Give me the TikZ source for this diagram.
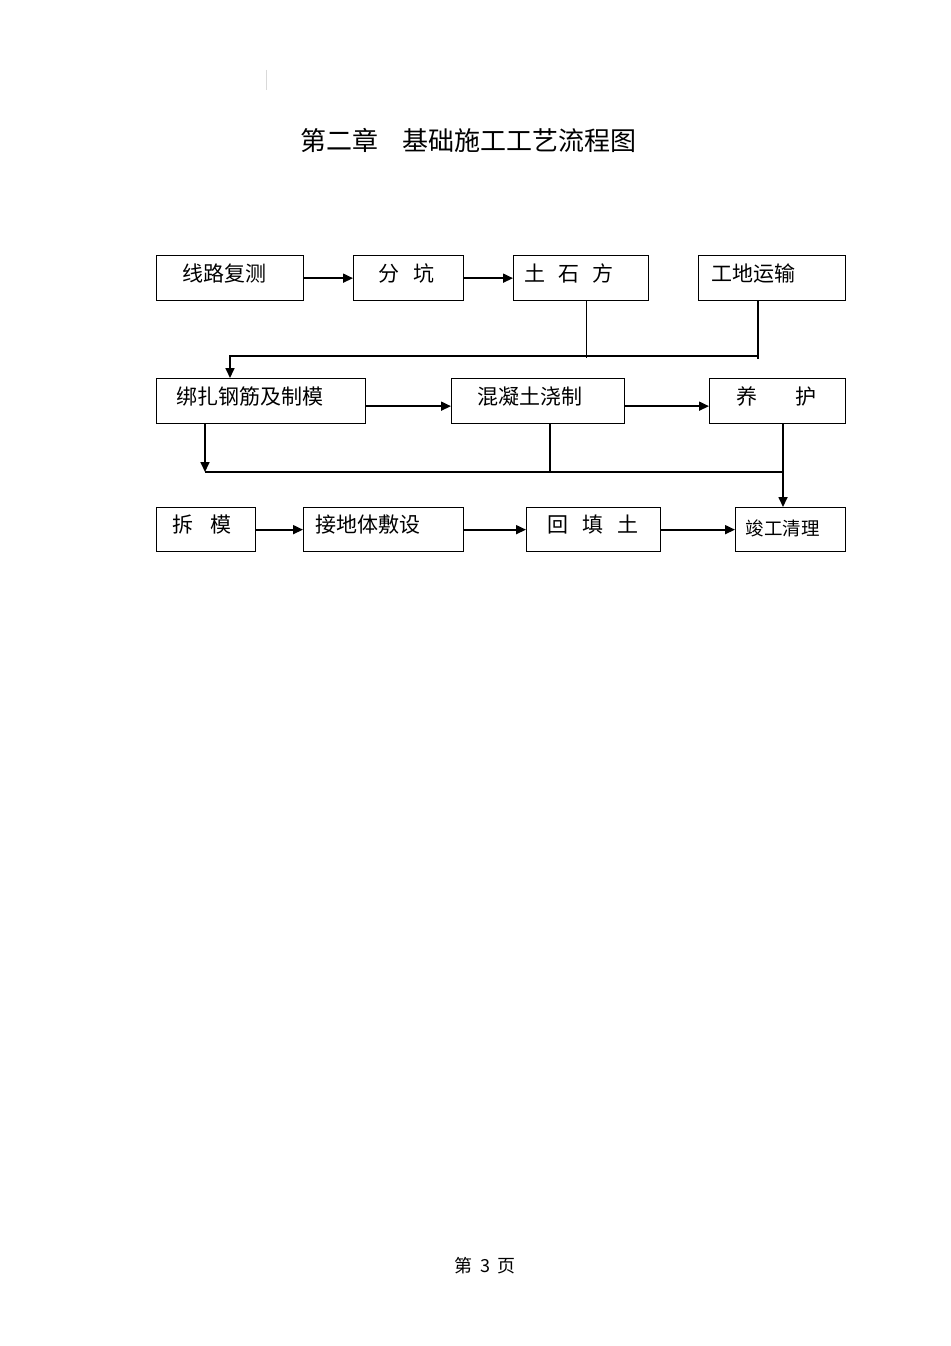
\documentclass[tikz,border=0pt]{standalone}
\usepackage{fontspec}
\newfontfamily\cjk{Noto Sans CJK SC}
\usepackage{tikz}
\usetikzlibrary{arrows.meta}

\begin{document}
\begin{tikzpicture}[x=1pt, y=-1pt,
    stage/.style={draw, line width=1.3pt, anchor=north west, minimum height=45pt, align=left, inner ysep=0pt,
        font=\cjk\fontsize{21}{21}\selectfont, text height=14pt, text depth=8pt},
    flow/.style={line width=1.7pt, -{Triangle[length=10pt,width=9pt]}},
    link/.style={line width=1.7pt}]
\fill[white] (0,0) rectangle (950,1346);
\useasboundingbox (0,0) rectangle (950,1346);
\draw[black!15, line width=0.8pt] (266,70) -- (266,90);

\node[anchor=base, font=\cjk\fontsize{26}{26}\selectfont] (title) at (468,150.5) {第二章\hspace{24pt}基础施工工艺流程图};

% first row
\node[stage, inner xsep=26pt, text width=95pt] (survey) at (156,255) {线路复测};
\node[stage, inner xsep=25pt, text width=60pt] (pit) at (353,255) {分\hspace{14pt}坑};
\node[stage, inner xsep=11pt, text width=113pt] (earth) at (513,255) {土\hspace{13pt}石\hspace{13pt}方};
\node[stage, inner xsep=13pt, text width=121pt] (transport) at (698,255) {工地运输};
% second row
\node[stage, inner xsep=20pt, text width=169pt] (rebar) at (156,378) {绑扎钢筋及制模};
\node[stage, inner xsep=26pt, text width=121pt] (concrete) at (451,378) {混凝土浇制};
\node[stage, inner xsep=27pt, text width=82pt] (curing) at (709,378) {养\hspace{38pt}护};
% third row
\node[stage, minimum height=44pt, inner xsep=16pt, text width=67pt] (strip) at (156,507) {拆\hspace{17pt}模};
\node[stage, minimum height=44pt, inner xsep=12pt, text width=136pt] (grounding) at (303,507) {接地体敷设};
\node[stage, minimum height=44pt, inner xsep=21pt, text width=92pt] (backfill) at (526,507) {回\hspace{14pt}填\hspace{14pt}土};
\node[stage, minimum height=44pt, inner xsep=10pt, text width=90pt, font=\cjk\fontsize{18.5}{18.5}\selectfont,
    text height=13pt, text depth=2pt] (cleanup) at (735,507) {竣工清理};

\node[anchor=base, font=\cjk\fontsize{18}{18}\selectfont] (page) at (485,1272) {第\hspace{8pt}3\hspace{8pt}页};

\coordinate (earthend) at (586.5,358);
\coordinate (busright) at (758,356);
\coordinate (busleft) at (230,356);
\coordinate (lowA) at (205,472);
\coordinate (lowB) at (550,472);
\coordinate (lowC) at (783,472);

\draw[flow] (survey) -- (pit);
\draw[flow] (pit) -- (earth);
\draw[line width=0.9pt] (earthend |- earth.south) -- (earthend);
\draw[link] (busright |- transport.south) -- ([yshift=-3pt]busright);
\draw[flow] (busright) -- (busleft) -- (busleft |- rebar.north);

\draw[flow] ([yshift=-5pt]rebar.east) -- ([yshift=-5pt]rebar.east -| concrete.west);
\draw[flow] ([yshift=-5pt]concrete.east) -- ([yshift=-5pt]concrete.east -| curing.west);

\draw[flow] (lowA |- rebar.south) -- (lowA);
\draw[link] (lowB |- concrete.south) -- (lowB);
\draw[flow] (lowC |- curing.south) -- (lowC |- cleanup.north);
\draw[link] (lowA) -- (lowC);

\draw[flow] (strip) -- (grounding);
\draw[flow] (grounding) -- (backfill);
\draw[flow] (backfill) -- (cleanup);
\end{tikzpicture}
\end{document}
